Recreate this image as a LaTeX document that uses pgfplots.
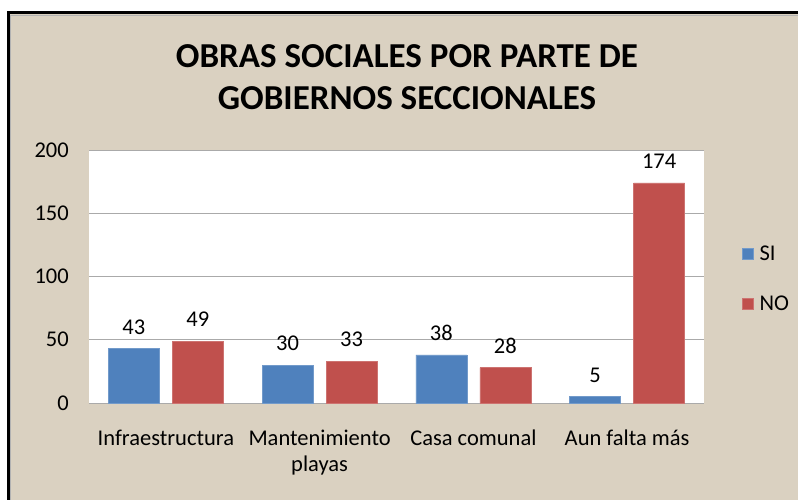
\documentclass[border=0pt]{standalone}
\usepackage{pgfplots}
\pgfplotsset{compat=1.18}
\usepackage{fontspec}
\setmainfont{Carlito}
\definecolor{bg}{RGB}{218,209,193}
\definecolor{siblue}{RGB}{79,129,189}
\definecolor{nored}{RGB}{192,80,77}
\definecolor{gridc}{RGB}{170,170,170}
\begin{document}
\begin{tikzpicture}[x=1pt,y=1pt]
\useasboundingbox (0,0) rectangle (798,499);
\fill[white] (0,0) rectangle (798,499);
\fill[bg] (8,-5) rectangle (805,486);
\draw[gray!60, line width=1.2pt] (10.5,-5) -- (10.5,483.5) -- (805,483.5);
\draw[black, line width=3pt] (8,-5) -- (8,486) -- (805,486);
\node[font=\fontsize{35}{42}\selectfont\bfseries, anchor=base] at (407,431) {OBRAS SOCIALES POR PARTE DE};
\node[font=\fontsize{35}{42}\selectfont\bfseries, anchor=base] at (407,389) {GOBIERNOS SECCIONALES};
\begin{axis}[
  at={(89pt,96pt)}, anchor=south west,
  scale only axis, width=615pt, height=253pt,
  ybar=13pt, bar width=51pt,
  xmin=-0.5, xmax=3.5, ymin=0, ymax=200,
  ytick={0,50,100,150,200},
  xtick=data,
  xticklabels={Infraestructura, {Mantenimiento\\playas}, {Casa comunal}, {Aun falta más}},
  /pgf/number format/assume math mode=true,
  axis background/.style={fill=white},
  axis line style={draw=none},
  ymajorgrids, grid style={gridc, line width=1pt},
  major tick length=0pt, tick style={draw=none},
  ticklabel style={font=\fontsize{22.5}{26}\selectfont, text=black},
  yticklabel style={anchor=east, inner sep=0pt, xshift=-20pt},
  xticklabel style={anchor=north, align=center, inner sep=0pt, yshift=-27pt},
  nodes near coords,
  every node near coord/.append style={font=\fontsize{22.5}{26}\selectfont, text=black, inner sep=0pt, yshift=14pt},
  legend style={at={(1.062,0.49)}, anchor=west, draw=none, fill=none,
    font=\fontsize{22.5}{26}\selectfont, row sep=30pt, inner sep=0pt,
    cells={anchor=west}},
  legend image code/.code={\fill[#1] (0pt,-5.5pt) rectangle (11pt,5.5pt); \path[draw=none,fill=none] (0pt,0pt) -- (15pt,0pt);},
]
\addplot[fill=siblue, draw=siblue!80!white] coordinates {(0,43) (1,30) (2,38) (3,5)};
\addplot[fill=nored, draw=nored!80!white] coordinates {(0,49) (1,33) (2,28) (3,174)};
\legend{SI,NO}
\end{axis}
\end{tikzpicture}
\end{document}
